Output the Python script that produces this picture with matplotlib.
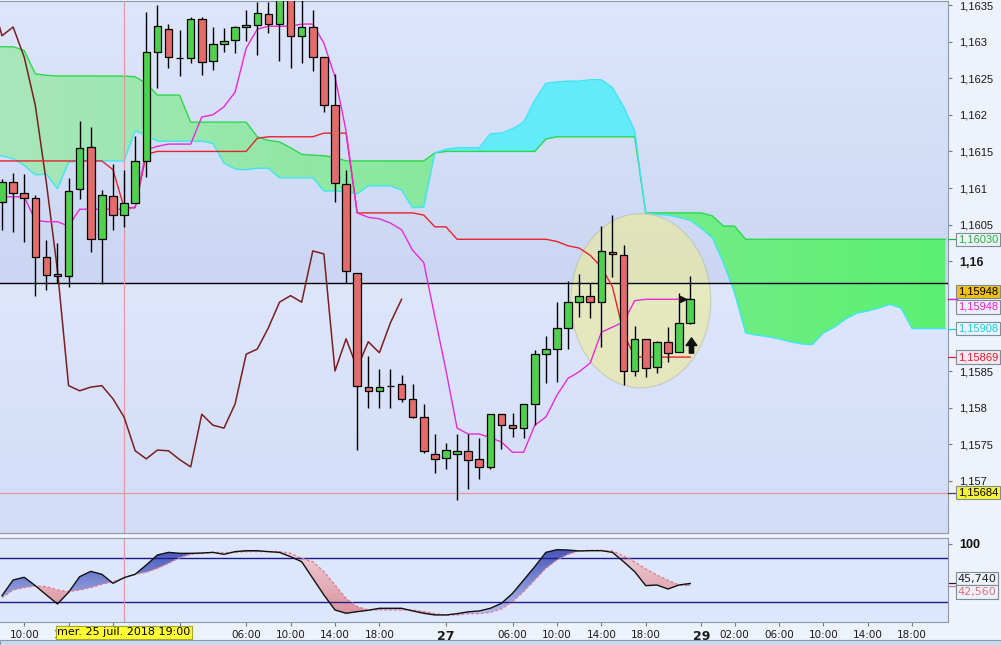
import numpy as np
import matplotlib
matplotlib.use('Agg')
import matplotlib.pyplot as plt
from matplotlib.patches import Ellipse, Rectangle
from matplotlib.path import Path
from matplotlib.colors import LinearSegmentedColormap, to_rgb

plt.rcParams['font.family'] = ['Liberation Sans', 'DejaVu Sans']
NARROW = ['Liberation Sans Narrow', 'DejaVu Sans']

# EUR/USD H1 - bar 0 = mer. 25 juil. 08:00, bar 62 = ven. 27 juil. 22:00
opens = [1.16081, 1.16108, 1.16093, 1.16087, 1.16006, 1.15983, 1.15980, 1.16099, 1.16156, 1.16031,
         1.16089, 1.16063, 1.16080, 1.16137, 1.16286, 1.16317, 1.16278, 1.16278, 1.16331, 1.16274,
         1.16297, 1.16302, 1.16320, 1.16323, 1.16338, 1.16324, 1.16362, 1.16308, 1.16320, 1.16279,
         1.16213, 1.16106, 1.15984, 1.15828, 1.15823, 1.15830, 1.15832, 1.15812, 1.15787, 1.15737,
         1.15731, 1.15737, 1.15741, 1.15730, 1.15719, 1.15791, 1.15776, 1.15772, 1.15805, 1.15873,
         1.15880, 1.15909, 1.15944, 1.15953, 1.15944, 1.16013, 1.16009, 1.15850, 1.15894, 1.15856,
         1.15890, 1.15876, 1.15916]
highs = [1.16112, 1.16121, 1.16119, 1.16091, 1.16029, 1.16025, 1.16114, 1.16192, 1.16183, 1.16097,
         1.16133, 1.16125, 1.16171, 1.16341, 1.16350, 1.16324, 1.16316, 1.16334, 1.16334, 1.16320,
         1.16319, 1.16321, 1.16343, 1.16354, 1.16354, 1.16372, 1.16375, 1.16368, 1.16343, 1.16279,
         1.16256, 1.16125, 1.15984, 1.15871, 1.15853, 1.15853, 1.15845, 1.15832, 1.15805, 1.15764,
         1.15752, 1.15764, 1.15764, 1.15759, 1.15791, 1.15791, 1.15793, 1.15805, 1.15879, 1.15898,
         1.15944, 1.15973, 1.15983, 1.15970, 1.16048, 1.16063, 1.16022, 1.15912, 1.15894, 1.15891,
         1.15910, 1.15957, 1.15980]
lows = [1.16043, 1.16040, 1.16026, 1.15953, 1.15961, 1.15970, 1.15965, 1.16085, 1.16013, 1.15969,
        1.16043, 1.16047, 1.16080, 1.16115, 1.16237, 1.16264, 1.16253, 1.16271, 1.16254, 1.16261,
        1.16286, 1.16285, 1.16301, 1.16282, 1.16312, 1.16274, 1.16264, 1.16271, 1.16260, 1.16204,
        1.16081, 1.15970, 1.15742, 1.15800, 1.15800, 1.15800, 1.15807, 1.15786, 1.15738, 1.15711,
        1.15716, 1.15674, 1.15689, 1.15703, 1.15716, 1.15744, 1.15760, 1.15759, 1.15776, 1.15834,
        1.15835, 1.15880, 1.15924, 1.15923, 1.15883, 1.15979, 1.15831, 1.15843, 1.15842, 1.15847,
        1.15862, 1.15876, 1.15914]
closes = [1.16108, 1.16093, 1.16087, 1.16006, 1.15981, 1.15980, 1.16096, 1.16155, 1.16031, 1.16091,
          1.16063, 1.16080, 1.16137, 1.16286, 1.16321, 1.16279, 1.16278, 1.16331, 1.16272, 1.16297,
          1.16301, 1.16320, 1.16323, 1.16339, 1.16324, 1.16362, 1.16308, 1.16320, 1.16279, 1.16213,
          1.16107, 1.15987, 1.15830, 1.15823, 1.15828, 1.15830, 1.15812, 1.15787, 1.15741, 1.15730,
          1.15742, 1.15741, 1.15729, 1.15719, 1.15791, 1.15776, 1.15772, 1.15805, 1.15873, 1.15880,
          1.15909, 1.15944, 1.15953, 1.15944, 1.16014, 1.16010, 1.15850, 1.15894, 1.15854, 1.15890,
          1.15875, 1.15916, 1.15948]

# ichimoku lines, from bar -1 (one bar left of the screen)
tenkan = [1.16088, 1.16088, 1.16088, 1.16088, 1.16056, 1.16054, 1.16054, 1.16048,
          1.16071, 1.16071, 1.16071, 1.16071, 1.16071, 1.16074, 1.16152, 1.16157, 1.16160,
          1.16160, 1.16160, 1.16197, 1.16200, 1.16211, 1.16231, 1.16291, 1.16317, 1.16321,
          1.16321, 1.16321, 1.16324, 1.16324, 1.16298, 1.16252, 1.16178, 1.16066, 1.16060,
          1.16058, 1.16052, 1.16043, 1.16015, 1.15998, 1.15924, 1.15851, 1.15772, 1.15764,
          1.15764, 1.15759, 1.15753, 1.15739, 1.15739, 1.15776, 1.15787, 1.15817, 1.15840,
          1.15849, 1.15861, 1.15903, 1.15910, 1.15917, 1.15946, 1.15948, 1.15948, 1.15948,
          1.15948, 1.15948]
kijun = [1.16137] * 11 + [1.16125, 1.16073, 1.16073, 1.16146] + [1.16150] * 9 + [1.16168] \
    + [1.16170] * 5 + [1.16175] * 3 + [1.16066] * 6 + [1.16063, 1.16047, 1.16047] \
    + [1.16030] * 9 + [1.16027, 1.16021, 1.16018, 1.16008, 1.15992, 1.15965, 1.15902] + [1.15869] * 6

# senkou spans (already shifted 26 bars ahead), bar -1 .. 85
span_a = [1.16293, 1.16293, 1.16293, 1.16288, 1.16256, 1.16254, 1.16253, 1.16253, 1.16253,
          1.16253, 1.16253, 1.16253, 1.16253, 1.16252, 1.16243, 1.16227, 1.16227, 1.16227,
          1.16190, 1.16190, 1.16190, 1.16190, 1.16190, 1.16190, 1.16170, 1.16165, 1.16163,
          1.16155, 1.16146, 1.16145, 1.16144, 1.16142, 1.16137] + [1.16137] * 7 \
    + [1.16148, 1.16150] + [1.16150] * 8 + [1.16167] + [1.16170] * 8 + [1.16066] * 6 \
    + [1.16062, 1.16048, 1.16048] + [1.16030] * 19
span_b = [1.16144, 1.16144, 1.16140, 1.16131, 1.16118, 1.16119, 1.16099, 1.16135, 1.16137,
          1.16137, 1.16137, 1.16137, 1.16137, 1.16178, 1.16172, 1.16164, 1.16164, 1.16164,
          1.16164, 1.16164, 1.16161, 1.16134, 1.16126, 1.16125, 1.16127, 1.16127, 1.16114,
          1.16114, 1.16114, 1.16114, 1.16096, 1.16096, 1.16095, 1.16092, 1.16103, 1.16103,
          1.16103, 1.16097, 1.16073, 1.16074, 1.16148, 1.16153, 1.16155, 1.16155, 1.16155,
          1.16174, 1.16175, 1.16181, 1.16190, 1.16220, 1.16243, 1.16245, 1.16246, 1.16246,
          1.16248, 1.16248, 1.16237, 1.16211, 1.16178, 1.16066, 1.16064, 1.16063, 1.16060,
          1.16056, 1.16045, 1.16032, 1.15998, 1.15957, 1.15902, 1.15899, 1.15897, 1.15894,
          1.15890, 1.15887, 1.15886, 1.15902, 1.15910, 1.15921, 1.15929, 1.15932, 1.15936,
          1.15941, 1.15936, 1.15908, 1.15908, 1.15908, 1.15908]

# stochastic %K / %D
stoch_k = [29.0, 50.4, 54.1, 42.7, 30.0, 17.7, 33.6, 55.0, 62.2, 58.2, 45.9, 53.6, 58.2, 70.9,
           84.5, 88.1, 86.8, 86.8, 87.2, 88.1, 85.4, 89.1, 90.4, 90.4, 89.1, 88.1, 82.2, 75.4,
           52.7, 30.0, 9.5, 5.0, 7.2, 9.1, 11.8, 11.8, 11.8, 8.2, 5.0, 2.7, 2.7, 4.5, 7.0, 8.2,
           11.8, 18.6, 32.2, 50.4, 68.6, 88.1, 91.8, 91.3, 90.0, 90.4, 90.4, 88.1, 75.4, 61.8,
           42.7, 43.6, 38.1, 43.6, 45.74]
stoch_d = [26.3, 36.8, 40.0, 42.2, 41.3, 36.8, 34.5, 36.8, 40.0, 44.5, 48.1, 53.6, 58.2, 60.9,
           66.3, 73.1, 80.9, 85.4, 86.8, 88.1, 87.7, 88.1, 89.1, 89.1, 89.1, 89.1, 86.8, 80.0,
           75.4, 61.8, 43.6, 25.4, 14.1, 9.5, 9.5, 9.5, 9.5, 9.5, 7.2, 4.5, 2.7, 2.7, 4.5, 4.5,
           6.3, 10.9, 20.9, 34.5, 50.4, 66.3, 77.7, 85.4, 90.0, 90.9, 90.9, 90.0, 83.1, 75.0,
           65.4, 57.2, 50.0, 43.6, 42.56]

support_level = 1.15970
low_level = 1.15684
marked_bar = 11
marked_label = 'mer. 25 juil. 2018 19:00'

price_ticks = [1.157, 1.1575, 1.158, 1.1585, 1.16, 1.1605, 1.161, 1.1615, 1.162, 1.1625, 1.163, 1.1635]
price_labels = ['1,157', '1,1575', '1,158', '1,1585', '1,16', '1,1605', '1,161', '1,1615',
                '1,162', '1,1625', '1,163', '1,1635']
# 18:00 of the 25th sits fully under the cursor date tag
time_ticks = [2, 6, 10, 16, 22, 26, 30, 34, 40, 46, 50, 54, 58, 63, 66, 70, 74, 78, 82]
time_labels = ['10:00', '14:00', '', '26', '06:00', '10:00', '14:00', '18:00', '27', '06:00',
               '10:00', '14:00', '18:00', '29', '02:00', '06:00', '10:00', '14:00', '18:00']
day_labels = ['26', '27', '29']

kb = np.arange(len(closes))
kl = np.arange(-1, len(tenkan) - 1)
kc = np.arange(-1, len(span_a) - 1)
o, h, l, c = map(np.array, (opens, highs, lows, closes))
sa, sb = np.array(span_a), np.array(span_b)
sk, sd = np.array(stoch_k), np.array(stoch_d)

XMIN, XMAX = -0.18, 85.23
YMIN, YMAX = 1.156287, 1.163555
fig = plt.figure(figsize=(10.01, 6.45), dpi=100, facecolor='#edf2fb')
rect_main = [0, 0.17364, 0.94705, 0.82481]
rect_low = [0, 0.03566, 0.94705, 0.13023]

# background gradient of the price panel (darker just above the black line)
bg = fig.add_axes(rect_main, zorder=0)
bg.axis('off')
rows = 533
cut = 284
grad = np.zeros((rows, 1, 3))
for i in range(rows):
    if i < cut:
        t = i / cut
        a, b = np.array(to_rgb('#dde6fc')), np.array(to_rgb('#cad6f2'))
    else:
        t = (i - cut) / (rows - cut)
        a, b = np.array(to_rgb('#dee6fc')), np.array(to_rgb('#d2dcf7'))
    grad[i, 0] = a + (b - a) * t
bg.imshow(grad, aspect='auto', extent=(0, 1, 0, 1))

ax = fig.add_axes(rect_main, zorder=1)
ax.patch.set_alpha(0)

# cloud
gfill = ax.fill_between(kc, sa, sb, where=sa >= sb, interpolate=True, color='none', lw=0)
ax.fill_between(kc, sa, sb, where=sa < sb, interpolate=True, color='#62ebf8', lw=0, zorder=1)
gmap = LinearSegmentedColormap.from_list('cloud', ['#a8e6ba', '#84e99a', '#5cf071'])
im = ax.imshow(np.linspace(0, 1, 256)[None, :], cmap=gmap, extent=(XMIN, XMAX, YMIN, YMAX),
               aspect='auto', origin='lower', zorder=1, interpolation='bilinear')
im.set_clip_path(Path.make_compound_path(*gfill.get_paths()), transform=ax.transData)
ax.plot(kc, sa, color='#2ed84c', lw=1.0, zorder=2)
ax.plot(kc, sb, color='#3de6f2', lw=1.0, zorder=2)

# highlight ellipse
ax.add_patch(Ellipse((57.55, 1.15946), 12.6, 0.00238, fc='#ecec96', alpha=0.6,
                     ec='#b8b8a0', lw=0.8, zorder=2))

ax.axhline(support_level, color='black', lw=1.0, zorder=3)
ax.axhline(low_level, color='#e39a9a', lw=0.9, zorder=3)
ax.axvline(marked_bar, color='#e39a9a', lw=0.9, zorder=3)

# chikou = closes moved back 26 bars
ax.plot(kb - 26, c, color='#7a1e22', lw=1.1, zorder=3)
ax.plot(kl, kijun, color='#e8222e', lw=1.0, zorder=3)
ax.plot(kl, tenkan, color='#e82ad8', lw=1.0, zorder=3)

# candles
up = c >= o
ax.vlines(kb, l, h, color='black', lw=1.0, zorder=4)
ax.bar(kb, np.abs(c - o), bottom=np.minimum(o, c), width=0.68,
       color=np.where(up, '#4fd04f', '#e46b6b'), edgecolor='black', lw=0.9, zorder=5)

# signal marks on the last bar
arrow = Path([(-0.28, -1), (0.28, -1), (0.28, 0), (0.7, 0), (0, 1), (-0.7, 0), (-0.28, 0), (-0.28, -1)],
             [Path.MOVETO] + [Path.LINETO] * 6 + [Path.CLOSEPOLY])
ax.plot([62.1], [1.15886], marker=arrow, ms=11, color='#111111', zorder=6)
ax.plot([61.35], [1.15949], marker='>', ms=5, color='#111111', zorder=6)

ax.set_xlim(XMIN, XMAX)
ax.set_ylim(YMIN, YMAX)
ax.set_xticks([])
ax.yaxis.tick_right()
ax.set_yticks(price_ticks, labels=price_labels)
ax.tick_params(axis='y', direction='out', length=3, width=0.8, pad=5, labelsize=8,
               color='#6c7c8c', labelcolor='#1a1a1a')
for t in ax.get_yticklabels():
    if t.get_text() == '1,16':
        t.set_fontweight('bold')
        t.set_fontsize(9)
for s in ('top', 'right', 'bottom'):
    ax.spines[s].set_color('#8d9aab')
ax.spines['left'].set_visible(False)

# value tags on the price scale
ytr = ax.get_yaxis_transform()
price_tags = [
    (span_a[-1], '#22b440', '#eef4f6', 0),
    (closes[-1], '#000000', '#f0c010', 5.5),
    (tenkan[-1], '#e020d8', '#f1eef8', -5.5),
    (span_b[-1], '#1ec8f0', '#e6f6fc', 0),
    (kijun[-1], '#e02030', '#f5e8ee', 0),
    (low_level, '#000000', '#f6f630', 0),
]
for v, tc, bgc, dy in price_tags:
    ax.plot([1.0, 1.01], [v, v], transform=ytr, color=tc if tc != '#000000' else '#444444',
            lw=0.9, clip_on=False, zorder=6)
    ax.annotate(f'{v:.5f}'.replace('.', ','), xy=(1, v), xycoords=ytr, xytext=(7, dy),
                textcoords='offset points', ha='left', va='center', fontsize=8, color=tc,
                bbox=dict(boxstyle='square,pad=0.15', fc=bgc, ec='#7d8c9c', lw=0.8),
                annotation_clip=False, zorder=7)

# stochastic panel
ax2 = fig.add_axes(rect_low, facecolor='#dce6fc', zorder=1)
ks = np.arange(len(stoch_k))
bfill = ax2.fill_between(ks, sk, sd, where=sk >= sd, interpolate=True, color='none', lw=0)
pfill = ax2.fill_between(ks, sk, sd, where=sk < sd, interpolate=True, color='none', lw=0)
bmap = LinearSegmentedColormap.from_list('bl', ['#b6c3f4', '#3e4db4'])
pmap = LinearSegmentedColormap.from_list('pk', ['#d98f9c', '#f2d6dc'])
for fill, cm in ((bfill, bmap), (pfill, pmap)):
    g = ax2.imshow(np.linspace(0, 1, 256)[:, None], cmap=cm, extent=(XMIN, XMAX, 0, 100),
                   aspect='auto', origin='lower', zorder=1, interpolation='bilinear')
    g.set_clip_path(Path.make_compound_path(*fill.get_paths()), transform=ax2.transData)
ax2.axhline(80, color='#1c1c8a', lw=1.0, zorder=2)
ax2.axhline(20, color='#1c1c8a', lw=1.0, zorder=2)
ax2.axvline(marked_bar, color='#e39a9a', lw=0.9, zorder=2)
ax2.plot(ks, sd, color='#e0808f', lw=1.0, ls=(0, (2, 1.5)), zorder=3)
ax2.plot(ks, sk, color='#111111', lw=1.0, zorder=4)
ax2.set_xlim(XMIN, XMAX)
ax2.set_ylim(-6.9, 107.7)
ax2.yaxis.tick_right()
ax2.set_yticks([100], labels=['100'])
ax2.tick_params(axis='y', direction='out', length=3, width=0.8, pad=5, labelsize=9,
                color='#6c7c8c', labelcolor='#111111')
for t in ax2.get_yticklabels():
    t.set_fontweight('bold')
ax2.set_xticks(time_ticks, labels=time_labels)
ax2.tick_params(axis='x', direction='out', length=3, width=0.8, pad=3, labelsize=7.5,
                color='#6c7c8c', labelcolor='#1a1a1a')
for t in ax2.get_xticklabels():
    t.set_family(NARROW)
    if t.get_text() in day_labels:
        t.set_fontweight('bold')
        t.set_fontsize(9)
for s in ('top', 'right', 'bottom'):
    ax2.spines[s].set_color('#8d9aab')
ax2.spines['left'].set_visible(False)

ytr2 = ax2.get_yaxis_transform()
for v, tc, dy in ((stoch_k[-1], '#222222', 3.5), (stoch_d[-1], '#e07080', -4.5)):
    ax2.plot([1.0, 1.01], [v, v], transform=ytr2, color=tc, lw=0.9, clip_on=False)
    ax2.annotate(f'{v:.3f}'.replace('.', ','), xy=(1, v), xycoords=ytr2, xytext=(7, dy),
                 textcoords='offset points', ha='left', va='center', fontsize=8, color=tc,
                 family=NARROW, bbox=dict(boxstyle='square,pad=0.15', fc='#eef2f8', ec='#7d8c9c', lw=0.8),
                 annotation_clip=False)

# date tag of the cursor
ax2.annotate(marked_label, xy=(marked_bar, 0), xycoords=('data', 'axes fraction'),
             xytext=(0, -7.5), textcoords='offset points', ha='center', va='center',
             fontsize=8, family=NARROW, color='black',
             bbox=dict(boxstyle='square,pad=0.15', fc='#ffff33', ec='#a8a820', lw=0.8),
             annotation_clip=False, zorder=10)

# bottom status strip
fig.patches.append(Rectangle((0, 0), 1, 5 / 645, transform=fig.transFigure,
                             fc='#c6daf0', ec='#8d9aab', lw=0.8))

fig.savefig('out.png', dpi=100, facecolor=fig.get_facecolor())
